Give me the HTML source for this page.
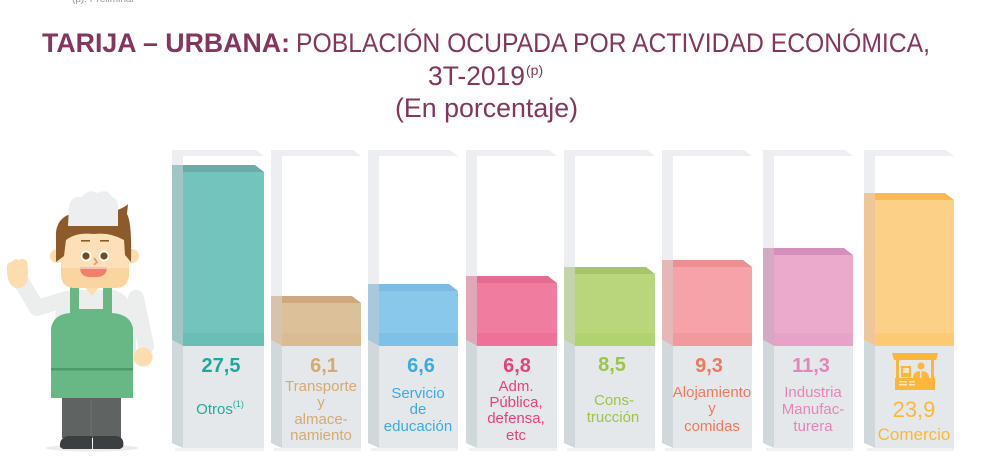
<!DOCTYPE html>
<html><head><meta charset="utf-8">
<style>
html,body{margin:0;padding:0;background:#fff;}
svg{display:block;}
text{font-family:"Liberation Sans",Arial,sans-serif;}
</style></head>
<body>
<svg width="986" height="470" viewBox="0 0 986 470" xmlns="http://www.w3.org/2000/svg">
<rect width="986" height="470" fill="#fff"/>
<text x="72" y="2" font-size="10" fill="#999">(p): Preliminar</text>

<!-- Title -->
<text x="42" y="52" font-size="27" font-weight="bold" fill="#84365f" textLength="248" lengthAdjust="spacingAndGlyphs">TARIJA – URBANA:</text>
<text x="296" y="52" font-size="27" fill="#84365f" textLength="634" lengthAdjust="spacingAndGlyphs">POBLACIÓN OCUPADA POR ACTIVIDAD ECONÓMICA,</text>
<text x="428" y="85" font-size="27" fill="#84365f" textLength="97" lengthAdjust="spacingAndGlyphs">3T-2019</text>
<text x="526" y="75" font-size="14" fill="#84365f">(p)</text>
<text x="395" y="117" font-size="27" fill="#84365f" textLength="183" lengthAdjust="spacingAndGlyphs">(En porcentaje)</text>

<!-- Columns -->
<g id="cols">
<!-- col1 L=172 R=264 T=165 -->
<rect x="172" y="150" width="11" height="15" fill="#eceef1"/>
<polygon points="172,150 256,150 264,156 172,156" fill="#eceef1"/>
<polygon points="172,165 183,165 183,346 172,340" fill="#9fc6c4"/>
<rect x="183" y="172" width="81" height="174" fill="#73c4bc"/>
<polygon points="183,165 255,165 264,172 183,172" fill="#6aaca5"/>
<rect x="183" y="333" width="81" height="13" fill="#62bdb2" opacity="0.6"/>
<rect x="183" y="346" width="81" height="102" fill="#e4e8ea"/>
<polygon points="172,340 183,346 183,448 172,443" fill="#d1d8db"/>
<rect x="175" y="448" width="89" height="3" fill="#eff1f2"/>

<!-- col2 L=271 R=361 T=296 -->
<rect x="271" y="150" width="11" height="146" fill="#eceef1"/>
<polygon points="271,150 353,150 361,156 271,156" fill="#eceef1"/>
<polygon points="271,296 282,296 282,346 271,340" fill="#d7c3ad"/>
<rect x="282" y="303" width="79" height="43" fill="#dcc09a"/>
<polygon points="282,296 352,296 361,303 282,303" fill="#cfa87d"/>
<rect x="282" y="333" width="79" height="13" fill="#d9b88d" opacity="0.6"/>
<rect x="282" y="346" width="79" height="102" fill="#e4e8ea"/>
<polygon points="271,340 282,346 282,448 271,443" fill="#d1d8db"/>
<rect x="274" y="448" width="87" height="3" fill="#eff1f2"/>

<!-- col3 L=368 R=458 T=284 -->
<rect x="368" y="150" width="11" height="134" fill="#eceef1"/>
<polygon points="368,150 450,150 458,156 368,156" fill="#eceef1"/>
<polygon points="368,284 379,284 379,346 368,340" fill="#a9c8dd"/>
<rect x="379" y="291" width="79" height="55" fill="#8ac8eb"/>
<polygon points="379,284 449,284 458,291 379,291" fill="#7cbbe2"/>
<rect x="379" y="333" width="79" height="13" fill="#74bde6" opacity="0.6"/>
<rect x="379" y="346" width="79" height="102" fill="#e4e8ea"/>
<polygon points="368,340 379,346 379,448 368,443" fill="#d1d8db"/>
<rect x="371" y="448" width="87" height="3" fill="#eff1f2"/>

<!-- col4 L=466 R=557 T=276 -->
<rect x="466" y="150" width="11" height="126" fill="#eceef1"/>
<polygon points="466,150 549,150 557,156 466,156" fill="#eceef1"/>
<polygon points="466,276 477,276 477,346 466,340" fill="#e0a7b8"/>
<rect x="477" y="283" width="80" height="63" fill="#f07c9f"/>
<polygon points="477,276 548,276 557,283 477,283" fill="#e56c91"/>
<rect x="477" y="333" width="80" height="13" fill="#ec6d93" opacity="0.6"/>
<rect x="477" y="346" width="80" height="102" fill="#e4e8ea"/>
<polygon points="466,340 477,346 477,448 466,443" fill="#d1d8db"/>
<rect x="469" y="448" width="88" height="3" fill="#eff1f2"/>

<!-- col5 L=564 R=655 T=267 -->
<rect x="564" y="150" width="11" height="117" fill="#eceef1"/>
<polygon points="564,150 647,150 655,156 564,156" fill="#eceef1"/>
<polygon points="564,267 575,267 575,346 564,340" fill="#c5d3a8"/>
<rect x="575" y="274" width="80" height="72" fill="#b9d67a"/>
<polygon points="575,267 646,267 655,274 575,274" fill="#a8c46a"/>
<rect x="575" y="333" width="80" height="13" fill="#acd064" opacity="0.6"/>
<rect x="575" y="346" width="80" height="102" fill="#e4e8ea"/>
<polygon points="564,340 575,346 575,448 564,443" fill="#d1d8db"/>
<rect x="567" y="448" width="88" height="3" fill="#eff1f2"/>

<!-- col6 L=662 R=752 T=260 -->
<rect x="662" y="150" width="11" height="110" fill="#eceef1"/>
<polygon points="662,150 744,150 752,156 662,156" fill="#eceef1"/>
<polygon points="662,260 673,260 673,346 662,340" fill="#e6b7b9"/>
<rect x="673" y="267" width="79" height="79" fill="#f5a2a8"/>
<polygon points="673,260 743,260 752,267 673,267" fill="#ec9094"/>
<rect x="673" y="333" width="79" height="13" fill="#f09298" opacity="0.6"/>
<rect x="673" y="346" width="79" height="102" fill="#e4e8ea"/>
<polygon points="662,340 673,346 673,448 662,443" fill="#d1d8db"/>
<rect x="665" y="448" width="87" height="3" fill="#eff1f2"/>

<!-- col7 L=763 R=853 T=248 -->
<rect x="763" y="150" width="11" height="98" fill="#eceef1"/>
<polygon points="763,150 845,150 853,156 763,156" fill="#eceef1"/>
<polygon points="763,248 774,248 774,346 763,340" fill="#d3a9c4"/>
<rect x="774" y="255" width="79" height="91" fill="#ebaacc"/>
<polygon points="774,248 844,248 853,255 774,255" fill="#d58fbd"/>
<rect x="774" y="333" width="79" height="13" fill="#e69cc4" opacity="0.6"/>
<rect x="774" y="346" width="79" height="102" fill="#e4e8ea"/>
<polygon points="763,340 774,346 774,448 763,443" fill="#d1d8db"/>
<rect x="766" y="448" width="87" height="3" fill="#eff1f2"/>

<!-- col8 L=864 R=954 T=193 -->
<rect x="864" y="150" width="11" height="43" fill="#eceef1"/>
<polygon points="864,150 946,150 954,156 864,156" fill="#eceef1"/>
<polygon points="864,193 875,193 875,346 864,340" fill="#edc799"/>
<rect x="875" y="200" width="79" height="146" fill="#fcd086"/>
<polygon points="875,193 945,193 954,200 875,200" fill="#f9ba55"/>
<rect x="875" y="333" width="79" height="13" fill="#fbc46a" opacity="0.6"/>
<rect x="875" y="346" width="79" height="102" fill="#e4e8ea"/>
<polygon points="864,340 875,346 875,448 864,443" fill="#d1d8db"/>
<rect x="867" y="448" width="87" height="3" fill="#eff1f2"/>
</g>

<!-- Labels -->
<g text-anchor="middle">
<text x="221" y="372" font-size="20" font-weight="bold" fill="#1aa99a">27,5</text>
<text x="220" y="414" font-size="15" fill="#27a99b">Otros<tspan font-size="9" dy="-7">(1)</tspan></text>

<text x="324" y="372" font-size="20" font-weight="bold" fill="#d6a972">6,1</text>
<g font-size="15" fill="#d6a972">
<text x="321" y="391">Transporte</text>
<text x="321" y="407">y</text>
<text x="321" y="424">almace-</text>
<text x="321" y="440">namiento</text>
</g>

<text x="421" y="372" font-size="20" font-weight="bold" fill="#3aaae0">6,6</text>
<g font-size="15" fill="#3aaae0">
<text x="418" y="398">Servicio</text>
<text x="418" y="414">de</text>
<text x="418" y="431">educación</text>
</g>

<text x="517" y="372" font-size="20" font-weight="bold" fill="#e8417c">6,8</text>
<g font-size="15" fill="#e8417c">
<text x="516" y="391">Adm.</text>
<text x="516" y="407">Pública,</text>
<text x="516" y="423">defensa,</text>
<text x="516" y="440">etc</text>
</g>

<text x="612" y="371" font-size="20" font-weight="bold" fill="#9bc547">8,5</text>
<g font-size="15" fill="#9bc547">
<text x="614" y="405">Cons-</text>
<text x="613" y="422">trucción</text>
</g>

<text x="709" y="372" font-size="20" font-weight="bold" fill="#f0785e">9,3</text>
<g font-size="15" fill="#f0785e">
<text x="712" y="397">Alojamiento</text>
<text x="712" y="413">y</text>
<text x="712" y="431">comidas</text>
</g>

<text x="811" y="372" font-size="20" font-weight="bold" fill="#e584b8">11,3</text>
<g font-size="15" fill="#e584b8">
<text x="813" y="397">Industria</text>
<text x="813" y="414">Manufac-</text>
<text x="813" y="431">turera</text>
</g>

<text x="914" y="417" font-size="22" fill="#fbb63c">23,9</text>
<text x="914" y="440" font-size="17" fill="#fbb63c">Comercio</text>
</g>

<!-- Market stall icon -->
<g fill="#fbb63c">
<polygon points="892,353 938,353 936,360 894,360"/>
<rect x="896" y="360" width="3" height="18"/>
<rect x="931" y="360" width="3" height="18"/>
<rect x="895" y="378" width="40" height="12"/>
<rect x="901" y="366" width="10" height="11"/>
<circle cx="921" cy="366" r="3.5"/>
<path d="M913,378 Q913,371 921,371 Q929,371 929,378 Z"/>
</g>
<g fill="#fde6bd">
<rect x="903" y="368" width="6" height="5"/>
<rect x="899" y="381" width="8" height="1.5"/>
<rect x="899" y="384" width="8" height="1.5"/>
<rect x="909" y="381" width="6" height="1.5"/>
<rect x="909" y="384" width="6" height="1.5"/>
<rect x="920" y="371" width="1.5" height="7"/>
</g>

<!-- Character -->
<g>
<ellipse cx="92" cy="448" rx="46" ry="3.5" fill="#ececec"/>
<!-- pants -->
<rect x="62" y="396" width="59" height="42" fill="#5f6462"/>
<rect x="90.5" y="400" width="1" height="38" fill="#6f7472"/>
<!-- shoes -->
<path d="M60,447 Q59,438 68,436 L92,436 L92,449 L63,449 Z" fill="#3b3f42"/>
<path d="M93,436 L117,436 Q125,438 123,447 L120,449 L93,449 Z" fill="#3b3f42"/>
<!-- arms -->
<polyline points="21,281 37,308 66,299" fill="none" stroke="#eceeee" stroke-width="16" stroke-linecap="round" stroke-linejoin="round"/>
<polyline points="136,298 146,346" fill="none" stroke="#eceeee" stroke-width="16" stroke-linecap="round"/>
<!-- torso shirt -->
<path d="M56,330 Q52,300 70,290 L114,290 Q136,296 136,330 L136,360 L56,360 Z" fill="#eceeee"/>
<!-- hands -->
<path d="M7,270 Q6,262 12,262 Q14,258 19,260 Q24,257 27,262 Q29,272 27,282 Q22,290 15,288 Q7,284 7,270 Z" fill="#fddcb0"/>
<circle cx="143" cy="357" r="9.5" fill="#fddcb0"/>
<!-- apron -->
<path d="M70,286 L79,286 L79,309 L103,309 L103,286 L112,286 L112,313 Q130,314 133,328 L133,398 L51,398 L51,328 Q54,314 70,313 Z" fill="#68b886"/>
<rect x="51" y="368" width="82" height="2.5" fill="#4f9a6a"/>
<!-- neck -->
<polygon points="82,284 102,284 92,296" fill="#fddcb0"/>
<!-- ears -->
<circle cx="57" cy="256" r="7" fill="#fddcb0"/>
<circle cx="132" cy="256" r="7" fill="#fddcb0"/>
<!-- face -->
<rect x="61" y="226" width="68" height="62" rx="14" fill="#fde0b8"/>
<path d="M61,268 L129,268 L129,274 Q129,288 115,288 L75,288 Q61,288 61,274 Z" fill="#fbd59f"/>
<!-- hair -->
<path d="M56,262 L56,232 Q58,214 80,212 L112,212 Q124,208 128,204 L127,214 Q132,222 131,262 L125,255 L124,240 Q110,232 94,234 Q76,232 66,240 L64,256 Z" fill="#8c5a2b"/>
<!-- hat -->
<path d="M68,226 L69,206 Q72,195 82,197 Q88,188 97,193 Q108,188 112,197 Q119,199 118,210 L118,226 Z" fill="#eceeef"/>
<!-- eyebrows -->
<rect x="81" y="240" width="9" height="1.6" fill="#8c5a2b"/>
<rect x="100" y="240" width="9" height="1.6" fill="#8c5a2b"/>
<!-- eyes -->
<circle cx="86" cy="256" r="5.5" fill="#fff"/>
<circle cx="104" cy="256" r="5.5" fill="#fff"/>
<circle cx="86" cy="256" r="3.6" fill="#7a4a1f"/>
<circle cx="104" cy="256" r="3.6" fill="#7a4a1f"/>
<!-- nose -->
<path d="M94,258 L97,262 L94,265" fill="none" stroke="#e8925a" stroke-width="1.5"/>
<!-- mouth -->
<path d="M80,267 L107,267 Q107,277 96,277 L90,277 Q80,277 80,267 Z" fill="#f0806b"/>
<rect x="80" y="267" width="27" height="2" fill="#fff" opacity="0.5"/>
</g>
</svg>
</body></html>
